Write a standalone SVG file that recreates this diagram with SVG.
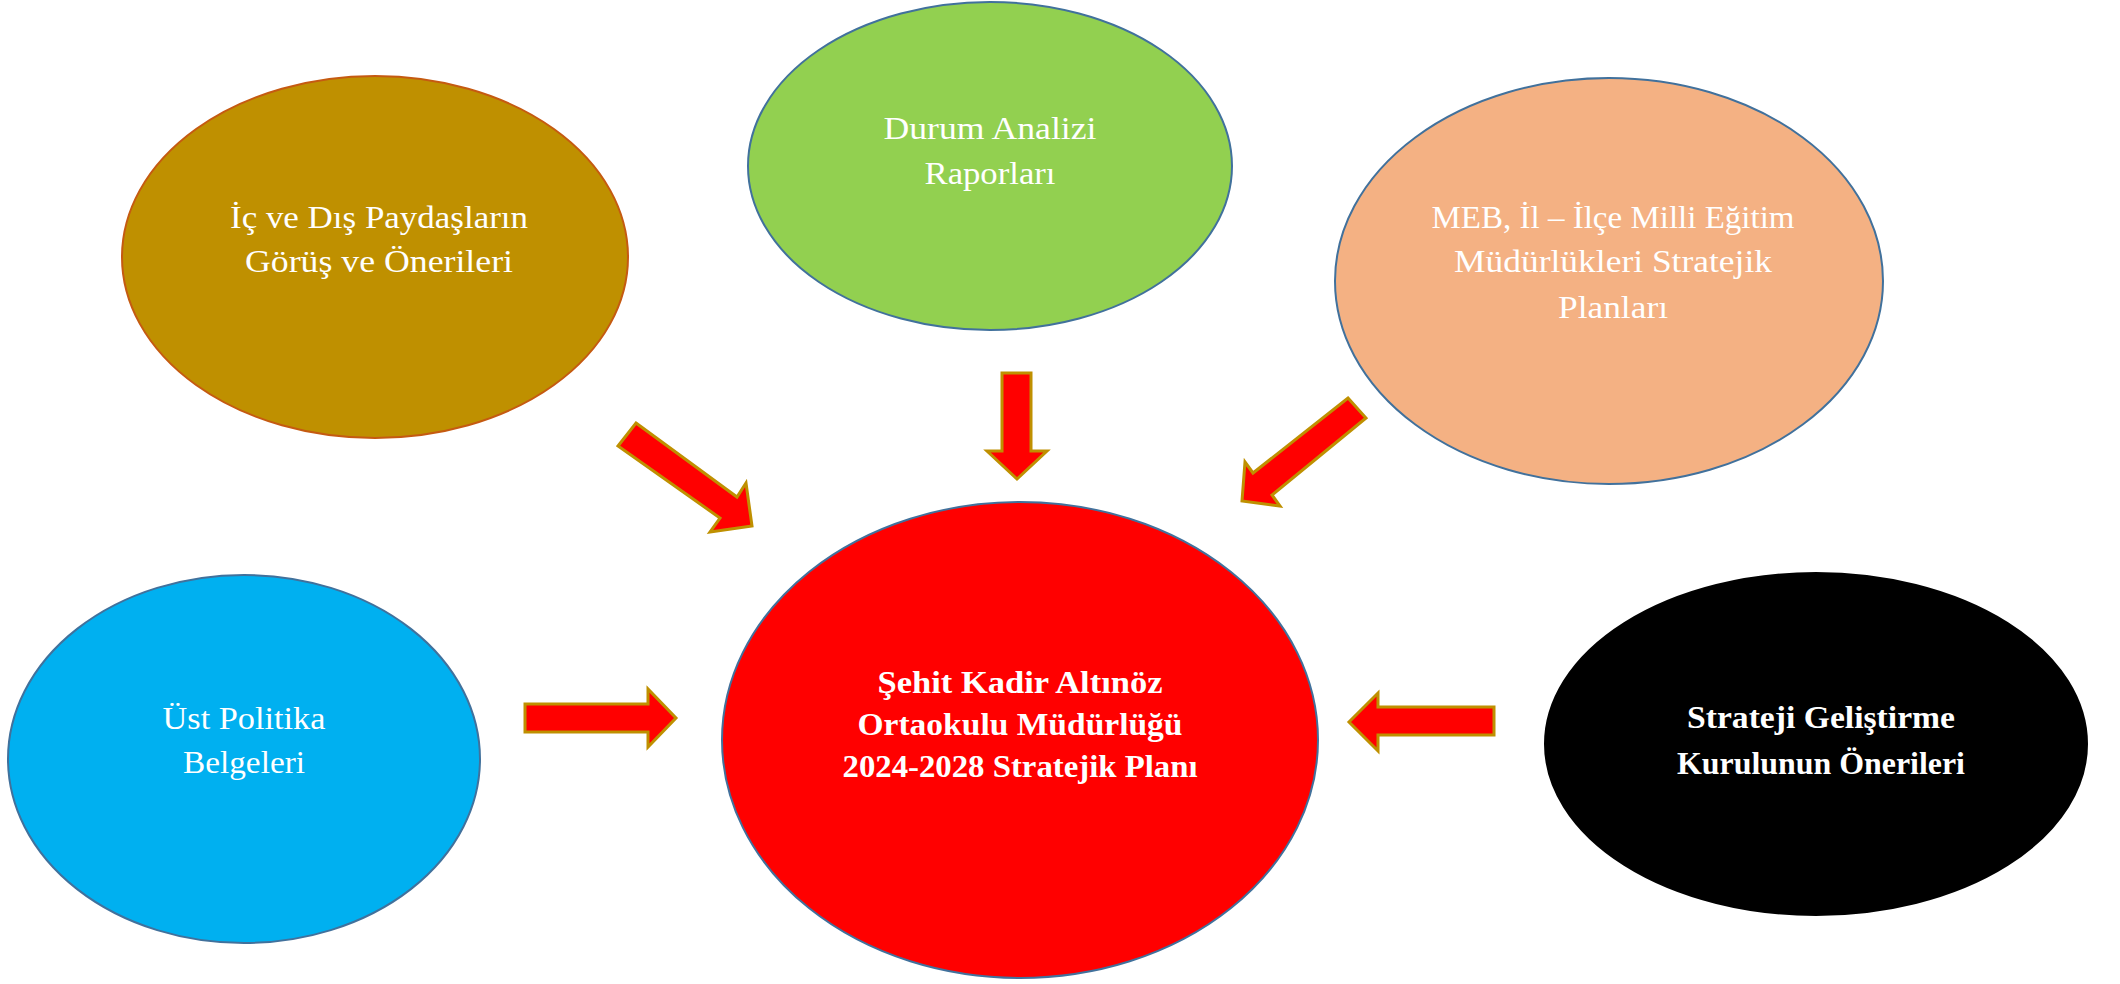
<svg xmlns="http://www.w3.org/2000/svg" width="2120" height="984" viewBox="0 0 2120 984">
<style>
.t{font-family:"Liberation Serif","Times New Roman",serif;font-size:31px;fill:#ffffff;text-anchor:middle}
.b{font-weight:bold}
.e{stroke:#41719C;stroke-width:2}
.a{fill:#FF0000;stroke:#BF9000;stroke-width:3;stroke-linejoin:miter}
</style>
<rect width="2120" height="984" fill="#ffffff"/>
<g id="node-paydas">
<ellipse cx="375" cy="257" rx="253" ry="181" fill="#BF9000" stroke="#C55A11" stroke-width="2"/>
<text class="t" x="379" y="228" textLength="298" lengthAdjust="spacingAndGlyphs">İç ve Dış Paydaşların</text>
<text class="t" x="379" y="272" textLength="268" lengthAdjust="spacingAndGlyphs">Görüş ve Önerileri</text>
</g>
<g id="node-durum">
<ellipse cx="990" cy="166" rx="242" ry="164" fill="#92D050" class="e"/>
<text class="t" x="990" y="139" textLength="213" lengthAdjust="spacingAndGlyphs">Durum Analizi</text>
<text class="t" x="990" y="184" textLength="131" lengthAdjust="spacingAndGlyphs">Raporları</text>
</g>
<g id="node-meb">
<ellipse cx="1609" cy="281" rx="274" ry="203" fill="#F4B183" class="e"/>
<text class="t" x="1613" y="228" textLength="363" lengthAdjust="spacingAndGlyphs">MEB, İl – İlçe Milli Eğitim</text>
<text class="t" x="1613" y="272" textLength="318" lengthAdjust="spacingAndGlyphs">Müdürlükleri Stratejik</text>
<text class="t" x="1613" y="318" textLength="110" lengthAdjust="spacingAndGlyphs">Planları</text>
</g>
<g id="node-ust">
<ellipse cx="244" cy="759" rx="236" ry="184" fill="#00B0F0" class="e"/>
<text class="t" x="244" y="729" textLength="163" lengthAdjust="spacingAndGlyphs">Üst Politika</text>
<text class="t" x="244" y="773" textLength="122" lengthAdjust="spacingAndGlyphs">Belgeleri</text>
</g>
<g id="node-plan">
<ellipse cx="1020" cy="740" rx="298" ry="238" fill="#FF0000" class="e"/>
<text class="t b" x="1020" y="693" textLength="285" lengthAdjust="spacingAndGlyphs">Şehit Kadir Altınöz</text>
<text class="t b" x="1020" y="735" textLength="325" lengthAdjust="spacingAndGlyphs">Ortaokulu Müdürlüğü</text>
<text class="t b" x="1020" y="777" textLength="355" lengthAdjust="spacingAndGlyphs">2024-2028 Stratejik Planı</text>
</g>
<g id="node-kurul">
<ellipse cx="1816" cy="744" rx="271" ry="171" fill="#000000" stroke="#000000" stroke-width="2"/>
<text class="t b" x="1821" y="728" textLength="268" lengthAdjust="spacingAndGlyphs">Strateji Geliştirme</text>
<text class="t b" x="1821" y="774" textLength="288" lengthAdjust="spacingAndGlyphs">Kurulunun Önerileri</text>
</g>
<g id="connectors">
<polygon class="a" points="636,423 737,497 746,483 752,526 710,532 720,518 618,446"/>
<polygon class="a" points="1002,373 1031,373 1031,451 1047,451 1017,479 987,451 1002,451"/>
<polygon class="a" points="1348,398 1366,418 1272,495 1280,506 1242,501 1245,462 1253,473"/>
<polygon class="a" points="525,704 648,704 648,689 676,718 648,747 648,732 525,732"/>
<polygon class="a" points="1494,707 1378,707 1378,693 1349,722 1378,751 1378,735 1494,735"/>
</g>
</svg>
